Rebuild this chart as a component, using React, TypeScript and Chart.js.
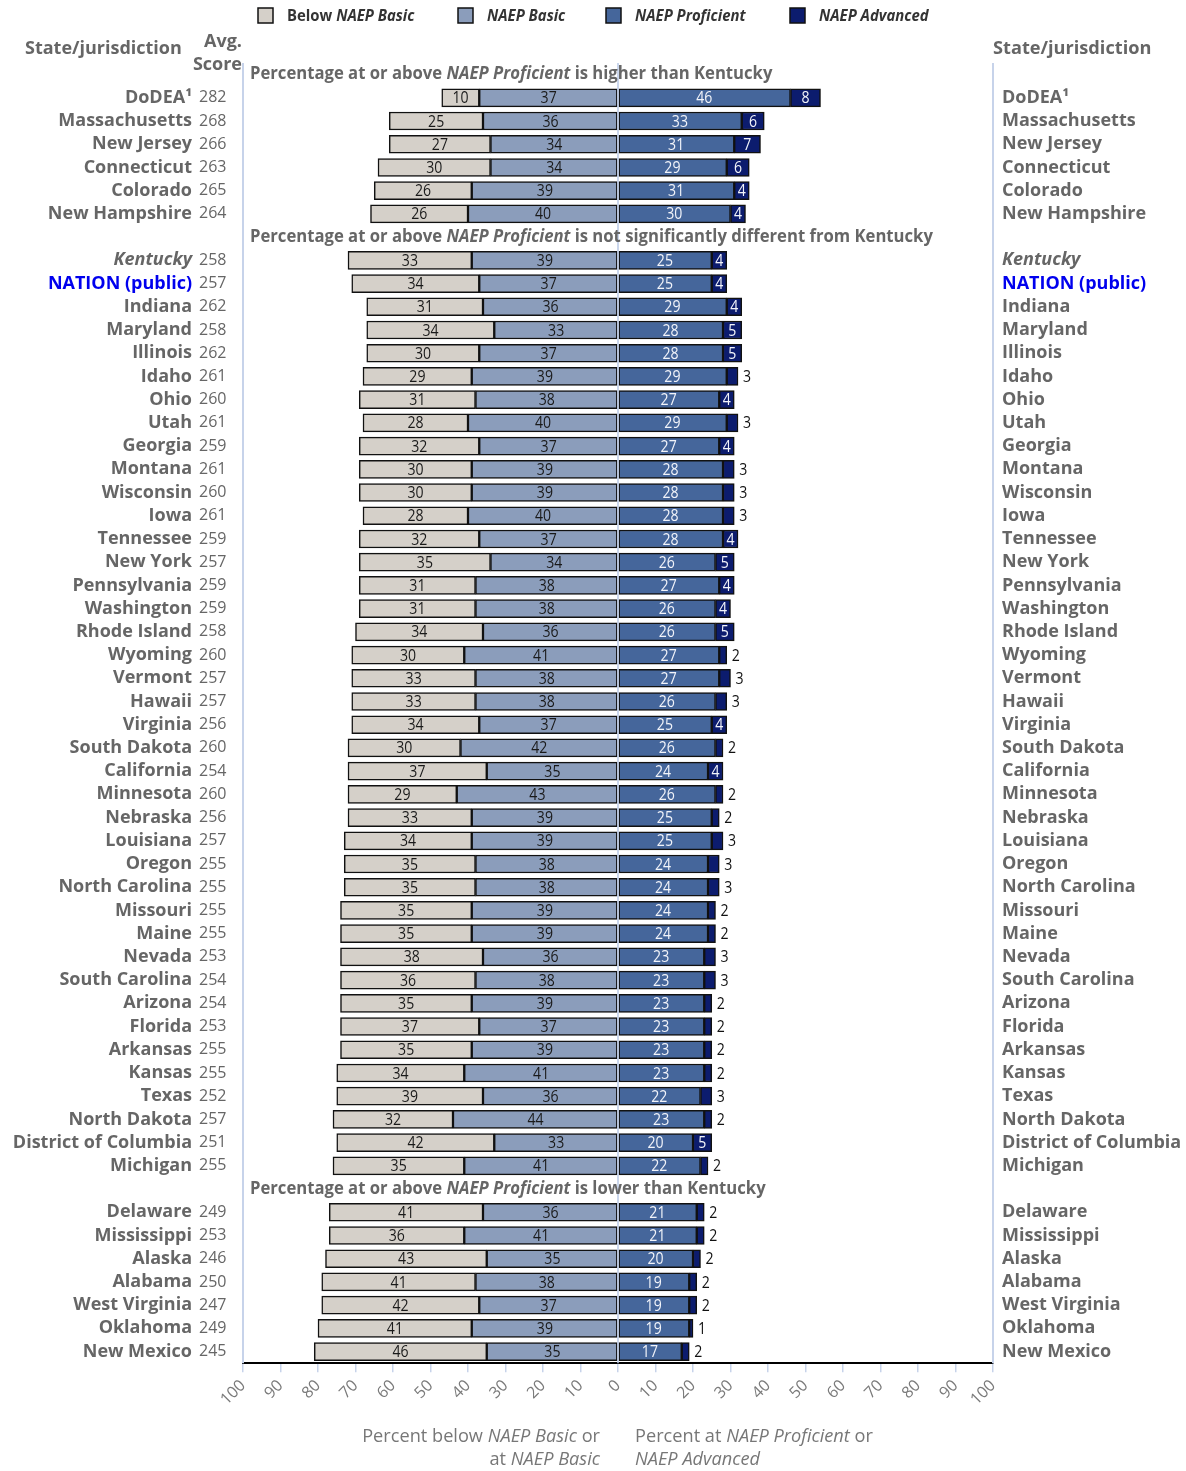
import React, { useEffect, useRef } from 'react';
import { Chart, registerables } from 'chart.js';
Chart.register(...registerables);

const states = [
  'DoDEA¹', 'Massachusetts', 'New Jersey', 'Connecticut', 'Colorado', 'New Hampshire',
  'Kentucky', 'NATION (public)', 'Indiana', 'Maryland', 'Illinois', 'Idaho', 'Ohio', 'Utah', 'Georgia',
  'Montana', 'Wisconsin', 'Iowa', 'Tennessee', 'New York', 'Pennsylvania', 'Washington', 'Rhode Island',
  'Wyoming', 'Vermont', 'Hawaii', 'Virginia', 'South Dakota', 'California', 'Minnesota', 'Nebraska',
  'Louisiana', 'Oregon', 'North Carolina', 'Missouri', 'Maine', 'Nevada', 'South Carolina', 'Arizona',
  'Florida', 'Arkansas', 'Kansas', 'Texas', 'North Dakota', 'District of Columbia', 'Michigan',
  'Delaware', 'Mississippi', 'Alaska', 'Alabama', 'West Virginia', 'Oklahoma', 'New Mexico',
];
const scores = [
  282, 268, 266, 263, 265, 264,
  258, 257, 262, 258, 262, 261, 260, 261, 259,
  261, 260, 261, 259, 257, 259, 259, 258,
  260, 257, 257, 256, 260, 254, 260, 256,
  257, 255, 255, 255, 255, 253, 254, 254,
  253, 255, 255, 252, 257, 251, 255,
  249, 253, 246, 250, 247, 249, 245,
];
const belowBasic = [
  10, 25, 27, 30, 26, 26,
  33, 34, 31, 34, 30, 29, 31, 28, 32,
  30, 30, 28, 32, 35, 31, 31, 34,
  30, 33, 33, 34, 30, 37, 29, 33,
  34, 35, 35, 35, 35, 38, 36, 35,
  37, 35, 34, 39, 32, 42, 35,
  41, 36, 43, 41, 42, 41, 46,
];
const atBasic = [
  37, 36, 34, 34, 39, 40,
  39, 37, 36, 33, 37, 39, 38, 40, 37,
  39, 39, 40, 37, 34, 38, 38, 36,
  41, 38, 38, 37, 42, 35, 43, 39,
  39, 38, 38, 39, 39, 36, 38, 39,
  37, 39, 41, 36, 44, 33, 41,
  36, 41, 35, 38, 37, 39, 35,
];
const proficient = [
  46, 33, 31, 29, 31, 30,
  25, 25, 29, 28, 28, 29, 27, 29, 27,
  28, 28, 28, 28, 26, 27, 26, 26,
  27, 27, 26, 25, 26, 24, 26, 25,
  25, 24, 24, 24, 24, 23, 23, 23,
  23, 23, 23, 22, 23, 20, 22,
  21, 21, 20, 19, 19, 19, 17,
];
const advanced = [
  8, 6, 7, 6, 4, 4,
  4, 4, 4, 5, 5, 3, 4, 3, 4,
  3, 3, 3, 4, 5, 4, 4, 5,
  2, 3, 3, 4, 2, 4, 2, 2,
  3, 3, 3, 2, 2, 3, 3, 2,
  2, 2, 2, 3, 2, 5, 2,
  2, 2, 2, 2, 2, 1, 2,
];
const groupSizes = [6, 40, 7];
const groupHeaders: [string, boolean][][] = [
  [['Percentage at or above ', false], ['NAEP Proficient', true], [' is higher than Kentucky', false]],
  [['Percentage at or above ', false], ['NAEP Proficient', true], [' is not significantly different from Kentucky', false]],
  [['Percentage at or above ', false], ['NAEP Proficient', true], [' is lower than Kentucky', false]],
];
const legendItems: [string, boolean][][] = [
  [['Below ', false], ['NAEP Basic', true]],
  [['NAEP Basic', true]],
  [['NAEP Proficient', true]],
  [['NAEP Advanced', true]],
];
const colors = ['#d5d0c9', '#8b9dbb', '#45669b', '#0c1c6e'];
const leftAxisTitle: [string, boolean][][] = [
  [['Percent below ', false], ['NAEP Basic', true], [' or', false]],
  [['at ', false], ['NAEP Basic', true]],
];
const rightAxisTitle: [string, boolean][][] = [
  [['Percent at ', false], ['NAEP Proficient', true], [' or', false]],
  [['NAEP Advanced', true]],
];

// Build rows with group header rows inserted
const rowLabels: string[] = [];
const rowState: number[] = [];
const rowHeader: number[] = [];
{
  let s = 0;
  groupSizes.forEach((n, g) => {
    rowLabels.push('__header' + g);
    rowState.push(-1);
    rowHeader.push(g);
    for (let k = 0; k < n; k++) {
      rowLabels.push(states[s]);
      rowState.push(s);
      rowHeader.push(-1);
      s++;
    }
  });
}
const rowVal = (arr: number[], sign: number) => rowState.map((s) => (s < 0 ? null : sign * arr[s]));

const FONT = "'Open Sans', sans-serif";

function drawRich(
  ctx: CanvasRenderingContext2D,
  segs: [string, boolean][],
  x: number,
  y: number,
  o: { size: number; weight: string | number; color: string; align: 'left' | 'right'; sx: number }
) {
  ctx.save();
  ctx.fillStyle = o.color;
  ctx.textBaseline = 'middle';
  ctx.textAlign = 'left';
  const fonts = segs.map(([, it]) => `${it ? 'italic ' : ''}${o.weight} ${o.size}px ${FONT}`);
  const widths = segs.map(([t], i) => {
    ctx.font = fonts[i];
    return ctx.measureText(t).width;
  });
  const total = widths.reduce((a, b) => a + b, 0);
  ctx.translate(x, y);
  ctx.scale(o.sx, 1);
  let cx = o.align === 'right' ? -total : 0;
  segs.forEach(([t], i) => {
    ctx.font = fonts[i];
    ctx.fillText(t, cx, 0);
    cx += widths[i];
  });
  ctx.restore();
}

function drawNum(ctx: CanvasRenderingContext2D, t: string, x: number, y: number, color: string, align: 'center' | 'left') {
  ctx.save();
  ctx.font = `16px ${FONT}`;
  ctx.fillStyle = color;
  ctx.textBaseline = 'middle';
  ctx.textAlign = align;
  ctx.translate(x, y + 1);
  ctx.scale(0.88, 1);
  ctx.fillText(t, 0, 0);
  ctx.restore();
}

const decorPlugin = {
  id: 'decor',
  beforeDatasetsDraw(chart: any) {
    const { ctx, chartArea } = chart;
    ctx.save();
    ctx.strokeStyle = '#c7d3ea';
    ctx.lineWidth = 2;
    [chartArea.left, chartArea.right].forEach((x: number) => {
      ctx.beginPath();
      ctx.moveTo(x, chartArea.top);
      ctx.lineTo(x, chartArea.bottom);
      ctx.stroke();
    });
    ctx.restore();
  },
  afterDatasetsDraw(chart: any) {
    const { ctx, chartArea, scales } = chart;
    const xs = scales.x;
    const ys = scales.y;
    // zero line
    ctx.save();
    ctx.strokeStyle = '#b9c9e6';
    ctx.lineWidth = 1.5;
    const zx = xs.getPixelForValue(0);
    ctx.beginPath();
    ctx.moveTo(zx, chartArea.top);
    ctx.lineTo(zx, chartArea.bottom);
    ctx.stroke();
    ctx.restore();

    rowLabels.forEach((_, i) => {
      const y = ys.getPixelForValue(i);
      const h = rowHeader[i];
      if (h >= 0) {
        drawRich(ctx, groupHeaders[h], chartArea.left + 7, y, { size: 17, weight: 'bold', color: '#666', align: 'left', sx: 0.98 });
        return;
      }
      const s = rowState[i];
      const b = belowBasic[s], ba = atBasic[s], p = proficient[s], a = advanced[s];
      drawNum(ctx, String(b), xs.getPixelForValue(-(ba + b / 2)), y, '#1a1a1a', 'center');
      drawNum(ctx, String(ba), xs.getPixelForValue(-ba / 2), y, '#1a1a1a', 'center');
      drawNum(ctx, String(p), xs.getPixelForValue(p / 2), y, '#f2f4fa', 'center');
      if (a >= 4) drawNum(ctx, String(a), xs.getPixelForValue(p + a / 2), y, '#f2f4fa', 'center');
      else drawNum(ctx, String(a), xs.getPixelForValue(p + a) + 5, y, '#111', 'left');

      const name = states[s];
      const italic = name === 'Kentucky';
      const color = name === 'NATION (public)' ? '#0000ee' : '#666';
      drawRich(ctx, [[name, italic]], 192, y, { size: 18, weight: 'bold', color, align: 'right', sx: 1 });
      drawRich(ctx, [[String(scores[s]), false]], 199, y, { size: 16, weight: 'normal', color: '#666', align: 'left', sx: 1 });
      drawRich(ctx, [[name, italic]], 1002, y, { size: 18, weight: 'bold', color, align: 'left', sx: 1 });
    });
  },
  afterDraw(chart: any) {
    const { ctx } = chart;
    // column titles
    drawRich(ctx, [['State/jurisdiction', false]], 25, 49, { size: 18, weight: 'bold', color: '#666', align: 'left', sx: 1 });
    drawRich(ctx, [['Avg.', false]], 242, 42, { size: 18, weight: 'bold', color: '#666', align: 'right', sx: 1 });
    drawRich(ctx, [['Score', false]], 242, 65, { size: 18, weight: 'bold', color: '#666', align: 'right', sx: 1 });
    drawRich(ctx, [['State/jurisdiction', false]], 993, 49, { size: 18, weight: 'bold', color: '#666', align: 'left', sx: 1.01 });
    // legend
    const boxX = [258, 458, 606, 790];
    legendItems.forEach((segs, i) => {
      ctx.save();
      ctx.fillStyle = colors[i];
      ctx.strokeStyle = '#111';
      ctx.lineWidth = 1.5;
      ctx.fillRect(boxX[i], 8, 15, 15);
      ctx.strokeRect(boxX[i], 8, 15, 15);
      ctx.restore();
      drawRich(ctx, segs, boxX[i] + 29, 16, { size: 16, weight: 'bold', color: '#333', align: 'left', sx: 0.93 });
    });
    // axis titles
    leftAxisTitle.forEach((segs, i) => {
      drawRich(ctx, segs, 600, 1437 + i * 23, { size: 18, weight: 'normal', color: '#777', align: 'right', sx: 1.01 });
    });
    rightAxisTitle.forEach((segs, i) => {
      drawRich(ctx, segs, 635, 1437 + i * 23, { size: 18, weight: 'normal', color: '#777', align: 'left', sx: 1.01 });
    });
  },
};

export default function App() {
  const ref = useRef<HTMLCanvasElement>(null);
  useEffect(() => {
    document.body.style.margin = '0';
    const bar = (label: string, data: (number | null)[], color: string) => ({
      label,
      data,
      backgroundColor: color,
      borderColor: '#111',
      borderWidth: 1.5,
      borderSkipped: false,
      barThickness: 18,
    });
    const chart = new Chart(ref.current!, {
      type: 'bar',
      data: {
        labels: rowLabels,
        datasets: [
          bar('NAEP Basic', rowVal(atBasic, -1), colors[1]),
          bar('Below NAEP Basic', rowVal(belowBasic, -1), colors[0]),
          bar('NAEP Proficient', rowVal(proficient, 1), colors[2]),
          bar('NAEP Advanced', rowVal(advanced, 1), colors[3]),
        ] as any,
      },
      options: {
        indexAxis: 'y',
        responsive: false,
        animation: false,
        layout: { padding: { left: 243, right: 193, top: 63, bottom: 0 } },
        plugins: { legend: { display: false }, tooltip: { enabled: false } },
        scales: {
          x: {
            stacked: true,
            min: -100,
            max: 100,
            afterFit: (scale: any) => {
              scale.height = 107.8;
            },
            border: { display: true, color: '#000', width: 2 },
            grid: { drawOnChartArea: false, drawTicks: true, tickLength: 9, color: '#c7d3ea', lineWidth: 1.5 },
            ticks: {
              stepSize: 10,
              autoSkip: false,
              maxRotation: 45,
              minRotation: 45,
              padding: 4,
              color: '#7a7a7a',
              font: { family: FONT, size: 16 },
              callback: (v: any) => String(Math.abs(Number(v))),
            },
          },
          y: {
            stacked: true,
            display: false,
          },
        },
      },
      plugins: [decorPlugin],
    });
    return () => chart.destroy();
  }, []);
  return <canvas ref={ref} width={1186} height={1471} style={{ display: 'block' }} />;
}
